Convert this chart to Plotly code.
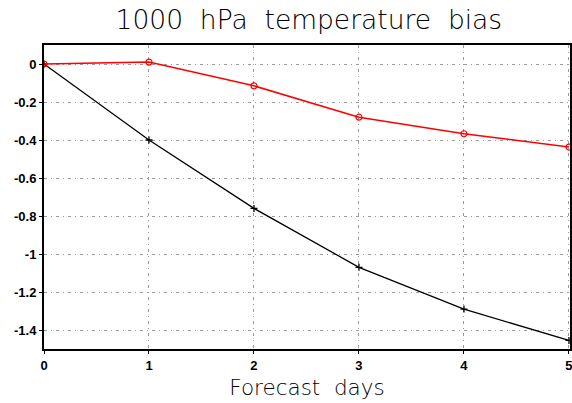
import plotly.graph_objects as go

days = [0, 1, 2, 3, 4, 5]
red_bias = [0.0, 0.01, -0.115, -0.28, -0.367, -0.437]
black_bias = [0.0, -0.40, -0.76, -1.07, -1.29, -1.455]
x_ticks = [0, 1, 2, 3, 4, 5]
y_ticks = [0, -0.2, -0.4, -0.6, -0.8, -1, -1.2, -1.4]
y_labels = ["0", "-0.2", "-0.4", "-0.6", "-0.8", "-1", "-1.2", "-1.4"]
title_text = "1000\u00a0\u00a0hPa\u00a0\u00a0temperature\u00a0\u00a0bias"
x_title = "Forecast\u00a0\u00a0days"

fig = go.Figure()
fig.add_trace(go.Scatter(x=days, y=black_bias, mode="lines+markers",
                         line=dict(color="black", width=1.3),
                         marker=dict(symbol="cross-thin", size=5, line=dict(color="black", width=1.3))))
fig.add_trace(go.Scatter(x=days, y=red_bias, mode="lines+markers",
                         line=dict(color="red", width=1.5),
                         marker=dict(symbol="circle-open", size=6, color="red", line=dict(width=1.2))))

grid = dict(showgrid=True, gridcolor="#9a9a9a", gridwidth=1, griddash="3px,4px,1px,4px")
fig.update_layout(
    width=572, height=403,
    margin=dict(l=44, r=2, t=45, b=54),
    paper_bgcolor="white", plot_bgcolor="white",
    showlegend=False,
    title=dict(text=title_text, x=0.54, xanchor="center", y=0.95, yanchor="middle",
               font=dict(family="DejaVu Sans", size=26.5, color="black", weight=300)),
    font=dict(family="Liberation Sans", color="black"),
)
fig.update_xaxes(range=[0, 5.01], tickvals=x_ticks, ticktext=[str(t) for t in x_ticks],
                 showline=True, linecolor="black", linewidth=2, mirror=True,
                 ticks="outside", ticklen=3, tickcolor="black", automargin=False,
                 ticklabeloverflow="allow",
                 tickfont=dict(size=13, family="Liberation Sans", weight="bold"),
                 zeroline=False,
                 title=dict(text=x_title, font=dict(size=21.5, family="DejaVu Sans", weight=300), standoff=8),
                 **grid)
fig.update_yaxes(range=[-1.5, 0.1], tickvals=y_ticks, ticktext=y_labels,
                 showline=True, linecolor="black", linewidth=2, mirror=True,
                 ticks="outside", ticklen=3, tickcolor="black", automargin=False,
                 tickfont=dict(size=13, family="Liberation Sans", weight="bold"),
                 zeroline=False, **grid)

fig.write_html("out.html", config={"displayModeBar": False})
with open("out.html", encoding="utf-8") as f:
    html = f.read()
html = html.replace("<head>", "<head><style>html,body{margin:0;padding:0;overflow:hidden}</style>", 1)
with open("out.html", "w", encoding="utf-8") as f:
    f.write(html)
